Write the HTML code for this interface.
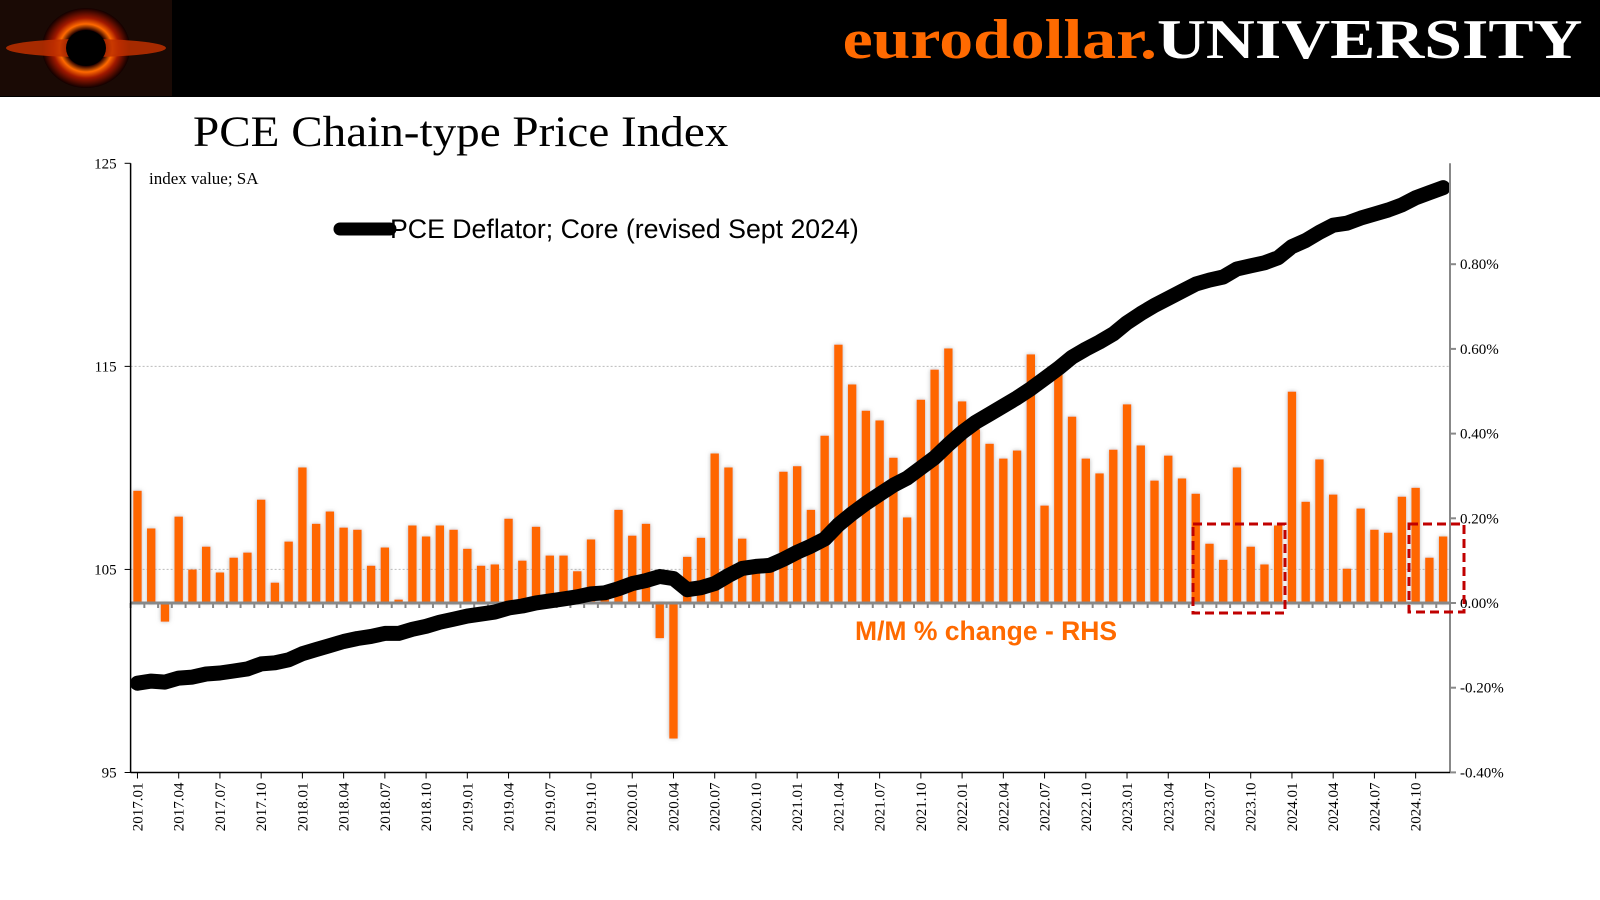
<!DOCTYPE html>
<html><head><meta charset="utf-8"><style>
html,body{margin:0;padding:0;background:#fff;width:1600px;height:900px;overflow:hidden}
#hdr{position:absolute;left:0;top:0;width:1600px;height:97px;background:#000}
#brand{position:absolute;right:18px;top:8px;font-family:"Liberation Serif",serif;font-weight:bold;font-size:56px;transform:scaleX(1.21);transform-origin:right top;white-space:nowrap}
#title{position:absolute;left:193px;top:108px;font-family:"Liberation Serif",serif;font-size:43px;color:#000;transform:scaleX(1.096);transform-origin:left top;white-space:nowrap}
svg{position:absolute;left:0;top:0}
</style></head><body>
<div id="hdr">
<svg width="172" height="96">
<defs><radialGradient id="g" cx="50%" cy="50%" r="50%"><stop offset="0" stop-color="#000"/><stop offset="0.45" stop-color="#200"/><stop offset="0.6" stop-color="#ff6a00"/><stop offset="0.75" stop-color="#a01800"/><stop offset="1" stop-color="#100"/></radialGradient></defs>
<rect width="172" height="96" fill="#1a0a05"/>
<ellipse cx="86" cy="48" rx="44" ry="40" fill="url(#g)"/>
<ellipse cx="86" cy="48" rx="80" ry="9" fill="#c03000" opacity="0.85"/>
<ellipse cx="86" cy="48" rx="20" ry="18" fill="#000"/>
</svg>
<div id="brand"><span style="color:#ff6a00">eurodollar.</span><span style="color:#fff">UNIVERSITY</span></div>
</div>
<div id="title">PCE Chain-type Price Index</div>
<svg id="chart" width="1600" height="900"></svg>
<script>
const categories=[];for(let y=2017;y<=2024;y++)for(let m=1;m<=12;m++)categories.push(y+'.'+String(m).padStart(2,'0'));
const momChange=[0.265,0.176,-0.044,0.204,0.079,0.133,0.072,0.107,0.119,0.244,0.048,0.145,
0.320,0.187,0.216,0.178,0.173,0.088,0.131,0.008,0.183,0.157,0.183,0.173,
0.128,0.088,0.091,0.199,0.100,0.180,0.112,0.112,0.075,0.150,0.030,0.220,
0.159,0.187,-0.083,-0.320,0.109,0.154,0.353,0.320,0.152,0.072,0.080,0.310,
0.323,0.220,0.395,0.610,0.516,0.454,0.431,0.343,0.202,0.480,0.551,0.601,
0.476,0.410,0.376,0.341,0.360,0.587,0.230,0.545,0.440,0.341,0.306,0.362,
0.469,0.372,0.289,0.348,0.294,0.258,0.140,0.102,0.320,0.133,0.091,0.183,
0.499,0.239,0.339,0.256,0.081,0.223,0.173,0.166,0.251,0.272,0.107,0.157];
const coreIndex=[99.4,99.5,99.45,99.65,99.7,99.85,99.9,100.0,100.1,100.35,100.4,100.55,
100.85,101.05,101.25,101.45,101.6,101.7,101.85,101.85,102.05,102.2,102.4,102.55,
102.7,102.8,102.9,103.1,103.2,103.35,103.45,103.55,103.65,103.8,103.85,104.05,
104.3,104.45,104.65,104.55,104.0,104.1,104.3,104.7,105.05,105.15,105.2,105.5,
105.85,106.15,106.5,107.2,107.75,108.25,108.7,109.15,109.5,110.0,110.5,111.15,
111.75,112.25,112.65,113.05,113.45,113.9,114.4,114.9,115.45,115.85,116.2,116.6,
117.15,117.6,118.0,118.35,118.7,119.05,119.25,119.4,119.8,119.95,120.1,120.35,
120.9,121.2,121.6,121.95,122.05,122.3,122.5,122.7,122.95,123.3,123.55,123.8];
const leftTicks=[95,105,115,125];
const rightTicks=[-0.4,-0.2,0,0.2,0.4,0.6,0.8];
const rightTickLabels=['-0.40%','-0.20%','0.00%','0.20%','0.40%','0.60%','0.80%'];

const svg=document.getElementById('chart');const NS='http://www.w3.org/2000/svg';
const L=130.6,R=1450,T=163.3,B=772.5,n=categories.length,step=(R-L)/n;
const xC=i=>L+step*(i+0.5);
const yL=v=>B-(v-95)/30*(B-T);
const yR=v=>603-v/0.2*84.7;
function mk(tag,at,parent){const e=document.createElementNS(NS,tag);for(const k in at)e.setAttribute(k,at[k]);(parent||svg).appendChild(e);return e;}
const defs=mk('defs',{});
const f=mk('filter',{id:'glow',x:'-50%',y:'-10%',width:'200%',height:'120%'},defs);
mk('feDropShadow',{dx:0,dy:0,stdDeviation:2.2,'flood-color':'#999','flood-opacity':0.7},f);
[105,115].forEach(v=>{const g=mk('line',{x1:L,x2:R,y1:yL(v),y2:yL(v),stroke:'#bbb','stroke-width':1,'stroke-dasharray':'2,2'});

});
const bg=mk('g',{filter:'url(#glow)'});


momChange.forEach((v,i)=>{const y0=yR(0),y1=yR(v);
const r=mk('rect',{x:xC(i)-4.2,y:Math.min(y0,y1),width:8.4,height:Math.abs(y1-y0),fill:'#ff6600'},bg);

});
const za=mk('line',{x1:L,x2:R,y1:yR(0),y2:yR(0),stroke:'#888','stroke-width':3});


for(let i=0;i<=n;i++){const t=mk('line',{x1:L+step*i,x2:L+step*i,y1:yR(0),y2:yR(0)+5,stroke:'#888','stroke-width':2});

}
let d='';coreIndex.forEach((v,i)=>{d+=(i?'L':'M')+xC(i).toFixed(1)+','+yL(v).toFixed(1);});
const ln=mk('path',{d:d,fill:'none',stroke:'#000','stroke-width':15,'stroke-linejoin':'round','stroke-linecap':'round'});


const la=mk('line',{x1:L,x2:L,y1:T,y2:B,stroke:'#000','stroke-width':1.5});


const ra=mk('line',{x1:R,x2:R,y1:T,y2:B,stroke:'#888','stroke-width':2});


const ba=mk('line',{x1:L,x2:R,y1:B,y2:B,stroke:'#000','stroke-width':1.5});


leftTicks.forEach(v=>{mk('line',{x1:L-6,x2:L,y1:yL(v),y2:yL(v),stroke:'#000'});
const t=mk('text',{x:L-14,y:yL(v)+5,'text-anchor':'end','font-family':'Liberation Serif, serif','font-size':15});t.textContent=v;

});
rightTicks.forEach((v,k)=>{mk('line',{x1:R,x2:R+6,y1:yR(v),y2:yR(v),stroke:'#888','stroke-width':2});
const t=mk('text',{x:R+10,y:yR(v)+5,'font-family':'Liberation Serif, serif','font-size':15});t.textContent=rightTickLabels[k];

});
for(let i=0;i<n;i+=3){const x=xC(i);mk('line',{x1:x,x2:x,y1:B,y2:B+6,stroke:'#000'});
const t=mk('text',{x:0,y:0,transform:`translate(${x+5},${B+10}) rotate(-90)`,'text-anchor':'end','font-family':'Liberation Serif, serif','font-size':15});t.textContent=categories[i];

}
let t=mk('text',{x:149,y:184,'font-family':'Liberation Serif, serif','font-size':17});t.textContent='index value; SA';


const lg=mk('line',{x1:340,x2:390,y1:229,y2:229,stroke:'#000','stroke-width':13,'stroke-linecap':'round'});


t=mk('text',{x:390,y:238,'font-family':'Liberation Sans, sans-serif','font-size':26.7});t.textContent='PCE Deflator; Core (revised Sept 2024)';


t=mk('text',{x:855,y:640,'font-family':'Liberation Sans, sans-serif','font-size':26.5,'font-weight':'bold',fill:'#ff6a00'});t.textContent='M/M % change - RHS';


[[1193,524,92,89],[1409,524,55,88]].forEach(b=>{const r=mk('rect',{x:b[0],y:b[1],width:b[2],height:b[3],fill:'none',stroke:'#c00000','stroke-width':3,'stroke-dasharray':'9,5'});

});
</script>
</body></html>
